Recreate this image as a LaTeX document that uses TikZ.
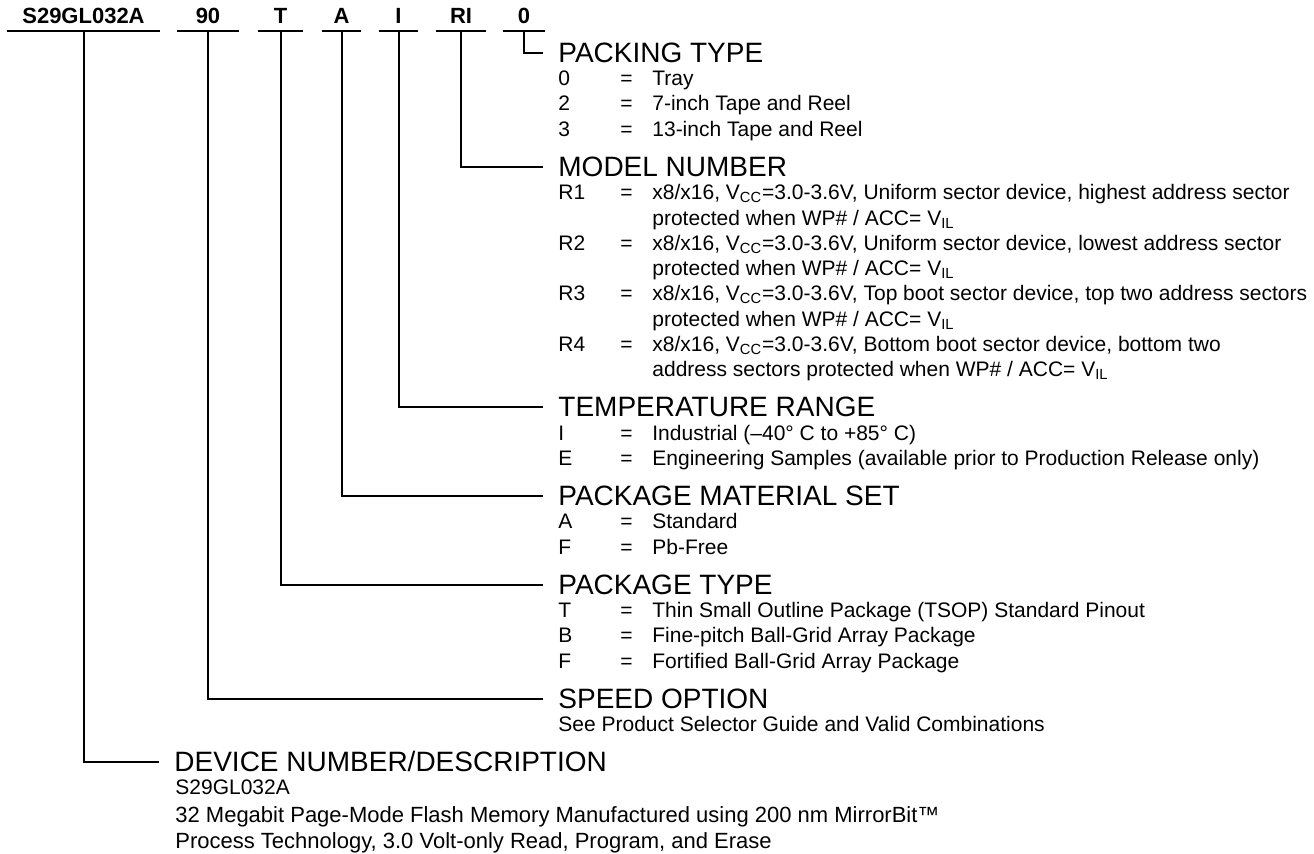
\documentclass[tikz,border=0pt]{standalone}
\usepackage{fontspec}
\setmainfont{Liberation Sans}
\usetikzlibrary{positioning}

\begin{document}
\begin{tikzpicture}[x=0.5pt,y=-0.5pt,
    part/.style={anchor=south,inner xsep=0pt,inner ysep=0pt,text depth=3.5pt,
      font=\bfseries\fontsize{11}{13}\selectfont},
    head/.style={anchor=west,inner xsep=7.5pt,inner ysep=0pt,text height=10pt,
      text depth=0pt,font=\fontsize{14}{16}\selectfont},
    opt/.style={anchor=west,inner sep=0pt,text height=7.5pt,text depth=0pt,
      font=\fontsize{10.5}{12}\selectfont},
    wire/.style={line width=1pt}]
  \useasboundingbox (0,0) rectangle (1314,854);

  % ordering code fields, each one underlined
  \foreach \n/\t/\x/\w in {pS/S29GL032A/83.5/76.5, pSpeed/90/208/31,
      pT/T/280.5/22.5, pA/A/341.5/19.5, pI/I/398.5/19.5,
      pRI/RI/461/25, pPack/0/524/21}{
    \node[part,minimum width=\w pt] (\n) at (\x,31) {\t};
    \draw[wire] (\n.south west) -- (\n.south east);
  }

  % headings
  \node[head] (hPack)  at (543,53)  {PACKING TYPE};
  \node[head] (hModel) at (543,167) {MODEL NUMBER};
  \node[head] (hTemp)  at (543,407) {TEMPERATURE RANGE};
  \node[head] (hMat)   at (543,496) {PACKAGE MATERIAL SET};
  \node[head] (hType)  at (543,585) {PACKAGE TYPE};
  \node[head] (hSpeed) at (543,699) {SPEED OPTION};
  \node[head] (hDev)   at (159,762) {DEVICE NUMBER/DESCRIPTION};

  \draw[wire] (pPack.south) |- (hPack.west);
  \draw[wire] (pRI.south) |- (hModel.west);
  \draw[wire] (pI.south) |- (hTemp.west);
  \draw[wire] (pA.south) |- (hMat.west);
  \draw[wire] (pT.south) |- (hType.west);
  \draw[wire] (pSpeed.south) |- (hSpeed.west);
  \draw[wire] (pS.south) |- (hDev.west);

  % option rows
  \foreach \y/\c/\d [count=\i] in {
      78/0/{Tray},
      103/2/{7-inch Tape and Reel},
      129/3/{13-inch Tape and Reel},
      192/R1/{x8/x16, V\textsubscript{CC}=3.0-3.6V, Uniform sector device, highest address sector},
      243/R2/{x8/x16, V\textsubscript{CC}=3.0-3.6V, Uniform sector device, lowest address sector},
      293/R3/{x8/x16, V\textsubscript{CC}=3.0-3.6V, Top boot sector device, top two address sectors},
      344/R4/{x8/x16, V\textsubscript{CC}=3.0-3.6V, Bottom boot sector device, bottom two},
      433/I/{Industrial (–40° C to +85° C)},
      458/E/{Engineering Samples (available prior to Production Release only)},
      521/A/{Standard},
      547/F/{Pb-Free},
      610/T/{Thin Small Outline Package (TSOP) Standard Pinout},
      635/B/{Fine-pitch Ball-Grid Array Package},
      661/F/{Fortified Ball-Grid Array Package}}{
    \node[opt] (code\i) at (558,\y) {\c};
    \node[opt] (eq\i) at (620,\y) {=};
    \node[opt] (desc\i) at (652,\y) {\d};
  }
  \node[opt] (desc4b) at (652,218) {protected when WP\# / ACC= V\textsubscript{IL}};
  \node[opt] (desc5b) at (652,268) {protected when WP\# / ACC= V\textsubscript{IL}};
  \node[opt] (desc6b) at (652,319) {protected when WP\# / ACC= V\textsubscript{IL}};
  \node[opt] (desc7b) at (652,369) {address sectors protected when WP\# / ACC= V\textsubscript{IL}};

  \node[opt] (speedNote) at (558,724) {See Product Selector Guide and Valid Combinations};
  \node[opt] (devA) at (175,787) {S29GL032A};
  \node[opt,font=\fontsize{11}{13}\selectfont] (devB) at (175,815)
    {32 Megabit Page-Mode Flash Memory Manufactured using 200 nm MirrorBit™};
  \node[opt,font=\fontsize{11}{13}\selectfont] (devC) at (175,841)
    {Process Technology, 3.0 Volt-only Read, Program, and Erase};
\end{tikzpicture}
\end{document}
